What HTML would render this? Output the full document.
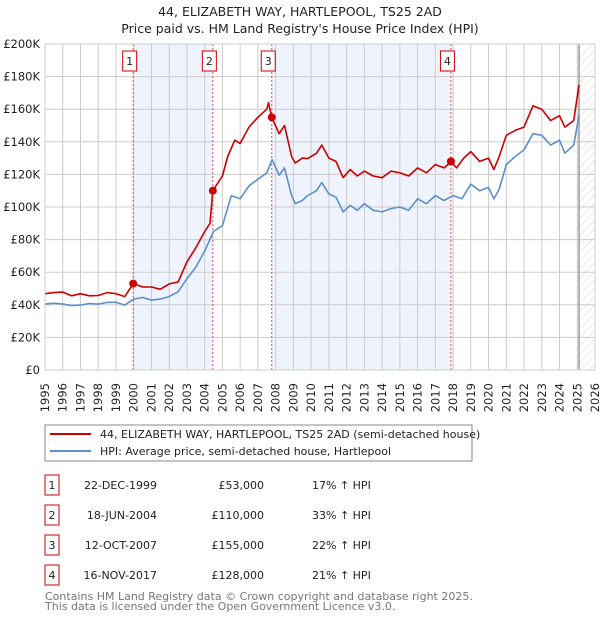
<!DOCTYPE html>
<html><head><meta charset="utf-8">
<style>
body{margin:0;background:#fff;font-family:"DejaVu Sans","Liberation Sans",sans-serif;}
svg text{font-family:"DejaVu Sans","Liberation Sans",sans-serif;}
</style></head>
<body>
<svg id="c" width="600" height="620" xmlns="http://www.w3.org/2000/svg">
<defs><pattern id="hatch" width="6" height="6" patternUnits="userSpaceOnUse" patternTransform="rotate(45)"><line x1="0" y1="0" x2="0" y2="6" stroke="#ccc" stroke-width="0.8"/></pattern></defs>
<text x="300" y="16" text-anchor="middle" font-size="12.5" fill="#222">44, ELIZABETH WAY, HARTLEPOOL, TS25 2AD</text>
<text x="300" y="33" text-anchor="middle" font-size="12.5" fill="#222">Price paid vs. HM Land Registry's House Price Index (HPI)</text>
<g id="plot"></g>
<g>
<rect x="45" y="425" width="427" height="36" fill="#fff" stroke="#888"/>
<line x1="50" y1="434" x2="91" y2="434" stroke="#cc0000" stroke-width="2"/>
<text x="100" y="438" font-size="11" fill="#222">44, ELIZABETH WAY, HARTLEPOOL, TS25 2AD (semi-detached house)</text>
<line x1="50" y1="451" x2="91" y2="451" stroke="#5b8fd0" stroke-width="2"/>
<text x="100" y="455" font-size="11" fill="#222">HPI: Average price, semi-detached house, Hartlepool</text>
</g>
<g id="table" font-size="11" fill="#222"></g>
<text x="45" y="600" font-size="11" fill="#777">Contains HM Land Registry data © Crown copyright and database right 2025.</text>
<text x="45" y="610" font-size="11" fill="#777">This data is licensed under the Open Government Licence v3.0.</text>
</svg>
<script>
const yearTicks=[1995,1996,1997,1998,1999,2000,2001,2002,2003,2004,2005,2006,2007,2008,2009,2010,2011,2012,2013,2014,2015,2016,2017,2018,2019,2020,2021,2022,2023,2024,2025,2026];
const valueTicks=[0,20000,40000,60000,80000,100000,120000,140000,160000,180000,200000];
const valueLabels=["£0","£20K","£40K","£60K","£80K","£100K","£120K","£140K","£160K","£180K","£200K"];
const hpiYears=[1995,1995.5,1996,1996.5,1997,1997.5,1998,1998.5,1999,1999.5,2000,2000.5,2001,2001.5,2002,2002.5,2003,2003.5,2004,2004.5,2005,2005.5,2006,2006.5,2007,2007.5,2007.8,2008.2,2008.5,2008.9,2009.1,2009.5,2009.8,2010.3,2010.6,2011,2011.4,2011.8,2012.2,2012.6,2013,2013.5,2014,2014.5,2015,2015.5,2016,2016.5,2017,2017.5,2018,2018.5,2019,2019.5,2020,2020.3,2020.6,2021,2021.5,2022,2022.5,2023,2023.5,2024,2024.3,2024.8,2025.1];
const hpiValues=[40400,41000,40400,39500,39800,40800,40400,41500,41600,39800,43500,44500,42900,43500,45000,48000,56000,63000,73000,85000,88600,107000,105000,113000,117000,121000,129000,119500,124000,107000,102000,104000,107000,110000,115000,108000,106000,97000,101000,98000,102000,98000,97000,99000,100000,98000,105000,102000,107000,104000,107000,105000,114000,110000,112000,105000,111000,126000,131000,135000,145000,144000,138000,141000,133000,138000,156000];
const priceYears=[1995,1995.5,1996,1996.5,1997,1997.5,1998,1998.5,1999,1999.5,1999.97,2000.5,2001,2001.5,2002,2002.5,2003,2003.5,2004,2004.3,2004.46,2005,2005.3,2005.7,2006,2006.5,2007,2007.5,2007.6,2007.78,2008.2,2008.5,2008.9,2009.1,2009.5,2009.8,2010.3,2010.6,2011,2011.4,2011.8,2012.2,2012.6,2013,2013.5,2014,2014.5,2015,2015.5,2016,2016.5,2017,2017.5,2017.88,2018.2,2018.6,2019,2019.5,2020,2020.3,2020.6,2021,2021.5,2022,2022.5,2023,2023.5,2024,2024.3,2024.8,2025.1];
const priceValues=[46800,47500,47800,45500,46800,45500,45700,47500,46800,45000,53000,51000,50900,49500,52800,54000,66300,75000,85000,90000,110000,119000,131000,141000,139000,149000,155000,160000,164000,155000,145000,150000,131000,127000,130000,129700,133000,138000,130000,128000,118000,123000,119000,122000,119000,118000,122000,121000,119000,124000,121000,126000,124000,128000,124000,130000,134000,128000,130000,123000,131000,144000,147000,149000,162000,160000,153000,156000,149000,153000,175000];
const saleYears=[1999.97,2004.46,2007.78,2017.88];
const saleValues=[53000,110000,155000,128000];
const saleLabels=["1","2","3","4"];
const saleDates=["22-DEC-1999","18-JUN-2004","12-OCT-2007","16-NOV-2017"];
const salePrices=["£53,000","£110,000","£155,000","£128,000"];
const salePcts=["17% ↑ HPI","33% ↑ HPI","22% ↑ HPI","21% ↑ HPI"];

const NS="http://www.w3.org/2000/svg";
const L=45,R=595,T=44,B=370;
const X=y=>L+(y-1995)/(2026-1995)*(R-L);
const Y=v=>B-v/200000*(B-T);
const plot=document.getElementById('plot');
function mk(tag,attrs,parent){const e=document.createElementNS(NS,tag);for(const k in attrs)e.setAttribute(k,attrs[k]);(parent||plot).appendChild(e);return e;}

let e;
e=mk('rect',{x:L,y:T,width:R-L,height:B-T,fill:'#fff'});


e=mk('rect',{x:X(saleYears[0]),y:T,width:X(saleYears[1])-X(saleYears[0]),height:B-T,fill:'#eef3fd'});


e=mk('rect',{x:X(saleYears[2]),y:T,width:X(saleYears[3])-X(saleYears[2]),height:B-T,fill:'#eef3fd'});


e=mk('rect',{x:X(2025.1),y:T,width:R-X(2025.1),height:B-T,fill:'url(#hatch)'});



yearTicks.forEach(yr=>{
  e=mk('line',{x1:X(yr),y1:T,x2:X(yr),y2:B,stroke:'#ccc','stroke-width':1});
  
  
  const tx=X(yr)+4, ty=383;
  e=mk('text',{x:tx,y:ty,'text-anchor':'end','font-size':11.5,fill:'#222',transform:'rotate(-90 '+tx+' '+ty+')'});
  e.textContent=yr;
  
  
});
valueTicks.forEach((v,i)=>{
  e=mk('line',{x1:L,y1:Y(v),x2:R,y2:Y(v),stroke:'#ccc','stroke-width':1});
  
  
  e=mk('text',{x:40,y:Y(v)+4,'text-anchor':'end','font-size':11.5,fill:'#222'});
  e.textContent=valueLabels[i];
  
  
});
e=mk('line',{x1:X(2025.1),y1:T,x2:X(2025.1),y2:B,stroke:'#999','stroke-width':1.5});



saleYears.forEach((yr,i)=>{
  e=mk('line',{x1:X(yr),y1:T,x2:X(yr),y2:B,stroke:'#e05050','stroke-width':1,'stroke-dasharray':'2,2'});
  
  
  const bx=X(yr)-3.5;
  e=mk('rect',{x:bx-7,y:51,width:14,height:20,fill:'#fff',stroke:'#cc0000'});
  
  
  e=mk('text',{x:bx,y:65,'text-anchor':'middle','font-size':11,fill:'#222'});
  e.textContent=saleLabels[i];
  
  
});

const path=(xs,vs)=>xs.map((x,i)=>(i?'L':'M')+X(x).toFixed(1)+','+Y(vs[i]).toFixed(1)).join(' ');
e=mk('path',{d:path(hpiYears,hpiValues),fill:'none',stroke:'#5b8fd0','stroke-width':1.6,'stroke-linejoin':'round'});


e=mk('path',{d:path(priceYears,priceValues),fill:'none',stroke:'#cc0000','stroke-width':1.6,'stroke-linejoin':'round'});


saleYears.forEach((yr,i)=>{
  e=mk('circle',{cx:X(yr),cy:Y(saleValues[i]),r:4,fill:'#cc0000'});
  
  
});
e=mk('rect',{x:L,y:T,width:R-L,height:B-T,fill:'none',stroke:'#ccc'});



const tb=document.getElementById('table');
saleLabels.forEach((lab,i)=>{
  const y=475+i*30;
  e=mk('rect',{x:45,y:y,width:14,height:20,fill:'#fff',stroke:'#cc0000'},tb);
  
  
  e=mk('text',{x:52,y:y+14,'text-anchor':'middle'},tb);e.textContent=lab;
  
  
  e=mk('text',{x:157,y:y+14,'text-anchor':'end'},tb);e.textContent=saleDates[i];
  
  
  e=mk('text',{x:264,y:y+14,'text-anchor':'end'},tb);e.textContent=salePrices[i];
  
  
  e=mk('text',{x:312,y:y+14},tb);e.textContent=salePcts[i];
  
  
});
</script>
</body></html>
